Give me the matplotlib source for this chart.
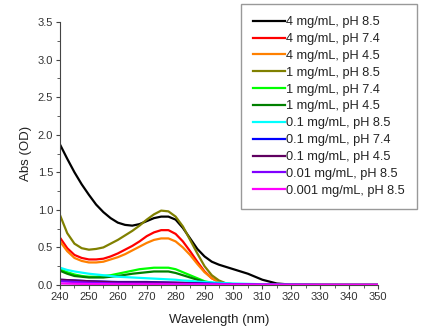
import numpy as np
import matplotlib
matplotlib.use("Agg")
import matplotlib.pyplot as plt
from matplotlib.ticker import MultipleLocator

plt.rcParams['font.family'] = ['Liberation Sans', 'DejaVu Sans']

# fine grid for the curves with a 275 nm band, coarse grid for the flat ones
wl_fine = [240, 242.5, 245, 247.5, 250, 252.5, 255, 257.5, 260, 262.5, 265,
           267.5, 270, 272.5, 275, 277.5, 280, 282.5, 285, 287.5, 290, 292.5,
           295, 297.5, 300, 305, 310, 315, 320, 330, 340, 350]
wl_coarse = [240, 250, 260, 270, 280, 290, 300, 310, 320, 330, 340, 350]

c4_ph85 = [1.87, 1.68, 1.50, 1.34, 1.20, 1.07, 0.97, 0.89, 0.83, 0.80, 0.79,
           0.81, 0.85, 0.89, 0.91, 0.91, 0.87, 0.76, 0.62, 0.48, 0.38, 0.31,
           0.27, 0.24, 0.21, 0.15, 0.07, 0.02, 0.005, 0.0, 0.0, 0.0]
c4_ph74 = [0.63, 0.49, 0.40, 0.36, 0.34, 0.34, 0.35, 0.38, 0.42, 0.47, 0.52,
           0.58, 0.65, 0.70, 0.73, 0.73, 0.68, 0.58, 0.45, 0.31, 0.18, 0.09,
           0.04, 0.02, 0.01, 0.0, 0.0, 0.0, 0.0, 0.0, 0.0, 0.0]
c4_ph45 = [0.58, 0.45, 0.36, 0.32, 0.30, 0.30, 0.31, 0.34, 0.37, 0.41, 0.46,
           0.51, 0.56, 0.60, 0.62, 0.62, 0.58, 0.50, 0.40, 0.28, 0.17, 0.09,
           0.04, 0.02, 0.01, 0.0, 0.0, 0.0, 0.0, 0.0, 0.0, 0.0]
c1_ph85 = [0.93, 0.69, 0.55, 0.49, 0.47, 0.48, 0.50, 0.55, 0.60, 0.66, 0.72,
           0.79, 0.87, 0.94, 0.99, 0.98, 0.91, 0.78, 0.60, 0.42, 0.25, 0.13,
           0.06, 0.02, 0.01, 0.0, 0.0, 0.0, 0.0, 0.0, 0.0, 0.0]
c1_ph74 = [0.21, 0.17, 0.14, 0.12, 0.11, 0.11, 0.12, 0.13, 0.15, 0.17, 0.19,
           0.21, 0.22, 0.23, 0.23, 0.23, 0.21, 0.17, 0.13, 0.09, 0.05, 0.03,
           0.01, 0.005, 0.0, 0.0, 0.0, 0.0, 0.0, 0.0, 0.0, 0.0]
c1_ph45 = [0.19, 0.15, 0.12, 0.11, 0.10, 0.10, 0.10, 0.11, 0.12, 0.135, 0.15,
           0.16, 0.17, 0.18, 0.18, 0.18, 0.16, 0.13, 0.10, 0.07, 0.04, 0.02,
           0.01, 0.005, 0.0, 0.0, 0.0, 0.0, 0.0, 0.0, 0.0, 0.0]
c01_ph85 = [0.23, 0.20, 0.18, 0.165, 0.15, 0.14, 0.13, 0.12, 0.11, 0.105, 0.10,
            0.095, 0.09, 0.085, 0.08, 0.075, 0.07, 0.06, 0.055, 0.045, 0.04,
            0.035, 0.03, 0.025, 0.02, 0.015, 0.01, 0.007, 0.005, 0.0, 0.0, 0.0]
c01_ph74 = [0.07, 0.05, 0.04, 0.04, 0.03, 0.02, 0.01, 0.0, 0.0, 0.0, 0.0, 0.0]
c01_ph45 = [0.07, 0.05, 0.035, 0.035, 0.03, 0.015, 0.005, 0.0, 0.0, 0.0, 0.0,
            0.0]
c001_ph85 = [0.05, 0.03, 0.02, 0.018, 0.015, 0.012, 0.01, 0.006, 0.004, 0.003,
             0.002, 0.002]
c0001_ph85 = [0.02, 0.013, 0.01, 0.009, 0.008, 0.007, 0.005, 0.004, 0.003,
              0.002, 0.002, 0.002]

series = [(wl_fine, c4_ph85), (wl_fine, c4_ph74), (wl_fine, c4_ph45),
          (wl_fine, c1_ph85), (wl_fine, c1_ph74), (wl_fine, c1_ph45),
          (wl_fine, c01_ph85), (wl_coarse, c01_ph74), (wl_coarse, c01_ph45),
          (wl_coarse, c001_ph85), (wl_coarse, c0001_ph85)]
labels = ["4 mg/mL, pH 8.5", "4 mg/mL, pH 7.4", "4 mg/mL, pH 4.5",
          "1 mg/mL, pH 8.5", "1 mg/mL, pH 7.4", "1 mg/mL, pH 4.5",
          "0.1 mg/mL, pH 8.5", "0.1 mg/mL, pH 7.4", "0.1 mg/mL, pH 4.5",
          "0.01 mg/mL, pH 8.5", "0.001 mg/mL, pH 8.5"]
colors = ["#000000", "#ff0000", "#ff8000", "#808000", "#00ff00", "#008000",
          "#00ffff", "#0000ff", "#600060", "#8000ff", "#ff00ff"]

fig = plt.figure(figsize=(4.27, 3.31), dpi=100)
ax = fig.add_axes([60 / 427, 1 - 285 / 331, 318 / 427, 263 / 331])

for (x, y), lab, col in zip(series, labels, colors):
    ax.plot(x, y, color=col, lw=1.6, label=lab)

ax.set_xlim(240, 350)
ax.set_ylim(0, 3.5)
ax.xaxis.set_major_locator(MultipleLocator(10))
ax.xaxis.set_minor_locator(MultipleLocator(5))
ax.yaxis.set_major_locator(MultipleLocator(0.5))
ax.yaxis.set_minor_locator(MultipleLocator(0.25))
ax.spines['top'].set_visible(False)
ax.spines['right'].set_visible(False)
for s in ['left', 'bottom']:
    ax.spines[s].set_color('#444444')
ax.tick_params(which='major', length=3, labelsize=8, colors='#444444',
               labelcolor='#333333', pad=2)
ax.tick_params(which='minor', length=2, colors='#444444')
ax.set_xlabel("Wavelength (nm)", fontsize=9.5, color='#222222', labelpad=9)
ax.set_ylabel("Abs (OD)", fontsize=9.5, color='#222222', labelpad=4)

leg = fig.legend(loc='upper left', bbox_to_anchor=(241 / 427, 1 - 4 / 331),
                 fontsize=9.2, handlelength=2.5, handletextpad=0.1,
                 labelspacing=0.38, borderpad=0.95, borderaxespad=0,
                 fancybox=False, edgecolor='#999999', framealpha=1)
for t in leg.get_texts():
    t.set_color('#222222')

fig.savefig("out.png", dpi=100)
